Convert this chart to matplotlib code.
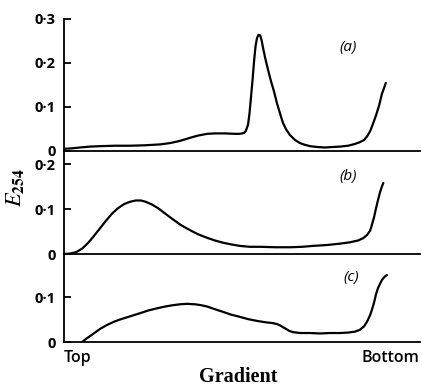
"""
Perfiles de absorbancia E254 a lo largo del gradiente (a), (b), (c)
"""

import matplotlib
matplotlib.use("Agg")
import matplotlib.pyplot as plt

# ── Datos (posición en el gradiente, % desde arriba) ────────────────────────

pos_a = [0.0, 2.2, 4.5, 7.3, 10.1, 14.3, 18.5, 22.8, 27.0, 29.8, 32.6, 35.4,
         37.6, 40.2, 42.4, 45.2, 48.0, 49.4, 50.6, 51.1, 51.7, 52.1, 52.5,
         53.0, 53.4, 53.8, 54.2, 54.6, 55.1, 55.5, 55.9, 56.5, 57.3, 58.1,
         59.0, 59.8, 60.7, 61.5, 62.4, 63.5, 64.9, 66.3, 67.7, 69.1, 71.3,
         73.3, 75.3, 77.5, 79.8, 81.7, 83.1, 84.3, 85.1, 86.0, 86.8, 87.6,
         88.5, 89.3, 89.9, 90.4]
e254_a = [0.005, 0.006, 0.008, 0.010, 0.011, 0.012, 0.012, 0.013, 0.015,
          0.018, 0.023, 0.030, 0.035, 0.039, 0.040, 0.040, 0.039, 0.039,
          0.041, 0.046, 0.060, 0.085, 0.120, 0.165, 0.205, 0.238, 0.256,
          0.264, 0.263, 0.252, 0.235, 0.212, 0.185, 0.160, 0.135, 0.109,
          0.085, 0.064, 0.049, 0.036, 0.025, 0.018, 0.014, 0.011, 0.009,
          0.008, 0.009, 0.010, 0.012, 0.016, 0.020, 0.025, 0.033, 0.045,
          0.062, 0.080, 0.103, 0.130, 0.143, 0.155]

pos_b = [0.0, 1.7, 3.4, 5.1, 6.7, 8.4, 10.1, 11.8, 13.5, 15.2, 16.9, 18.5,
         20.2, 21.6, 23.0, 24.7, 26.4, 28.4, 30.6, 32.9, 35.4, 37.6, 40.2,
         42.4, 44.7, 47.2, 49.4, 52.2, 55.1, 59.3, 63.5, 66.9, 69.9, 73.9,
         77.5, 80.3, 82.6, 84.0, 85.1, 86.0, 86.5, 87.1, 87.6, 88.2, 88.8,
         89.3, 89.7]
e254_b = [0.0, 0.001, 0.004, 0.012, 0.024, 0.040, 0.057, 0.074, 0.090, 0.102,
          0.111, 0.116, 0.119, 0.119, 0.116, 0.110, 0.102, 0.090, 0.077,
          0.064, 0.053, 0.044, 0.036, 0.030, 0.025, 0.021, 0.018, 0.016,
          0.016, 0.015, 0.015, 0.016, 0.018, 0.020, 0.023, 0.026, 0.030,
          0.035, 0.042, 0.052, 0.065, 0.082, 0.100, 0.120, 0.138, 0.150,
          0.158]

pos_c = [5.1, 6.2, 7.3, 8.7, 10.1, 12.1, 14.0, 15.7, 18.5, 21.3, 23.6, 26.1,
         28.4, 30.6, 32.6, 34.6, 36.8, 38.5, 40.2, 42.4, 44.7, 46.9, 49.4,
         51.7, 54.2, 56.5, 58.7, 59.8, 60.7, 61.5, 62.4, 63.2, 64.3, 66.3,
         69.1, 71.9, 74.7, 77.5, 79.8, 81.7, 83.1, 84.3, 85.1, 86.0, 86.5,
         87.1, 87.6, 88.2, 88.8, 89.3, 90.0, 90.7]
e254_c = [0.0, 0.007, 0.013, 0.021, 0.029, 0.038, 0.045, 0.050, 0.057, 0.064,
          0.070, 0.075, 0.079, 0.082, 0.084, 0.085, 0.084, 0.082, 0.079,
          0.073, 0.067, 0.061, 0.056, 0.051, 0.047, 0.044, 0.042, 0.040,
          0.037, 0.033, 0.029, 0.025, 0.022, 0.020, 0.020, 0.019, 0.020,
          0.020, 0.021, 0.023, 0.027, 0.035, 0.045, 0.060, 0.072, 0.088,
          0.105, 0.120, 0.130, 0.138, 0.145, 0.149]

panel_labels = ["(a)", "(b)", "(c)"]
yticks = [[0, 0.1, 0.2, 0.3], [0, 0.1, 0.2], [0, 0.1]]
ytick_labels = [["0", "0·1", "0·2", "0·3"], ["0", "0·1", "0·2"], ["0", "0·1"]]
ylims = [0.30, 0.229, 0.196]

# ── Figura ───────────────────────────────────────────────────────────────────

W, H = 422, 387
fig = plt.figure(figsize=(W / 100, H / 100), dpi=100)

left, right = 64 / W, 420 / W
# (top_px, bottom_px) de cada panel
bounds = [(19, 151), (151, 254), (254, 342)]
series = [(pos_a, e254_a), (pos_b, e254_b), (pos_c, e254_c)]
label_pos = [(348, 47), (348, 177), (351, 278)]

tick_font = dict(family="Open Sans", weight="bold", size=10.5)

for i, ((t, b), (xs, ys)) in enumerate(zip(bounds, series)):
    ax = fig.add_axes([left, (H - b) / H, right - left, (b - t) / H])
    ax.plot(xs, ys, color="black", lw=1.6, solid_joinstyle="round",
            solid_capstyle="round")
    ax.set_xlim(0, 100)
    ax.set_ylim(0, ylims[i])
    ax.spines["top"].set_visible(False)
    ax.spines["right"].set_visible(False)
    ax.spines["left"].set_linewidth(1.3)
    ax.spines["bottom"].set_linewidth(1.3)
    ax.set_xticks([])
    ax.set_yticks(yticks[i])
    ax.set_yticklabels(ytick_labels[i], fontdict=tick_font)
    ax.tick_params(axis="y", direction="in", length=5, width=1.3, pad=6)
    ax.patch.set_alpha(0)
    lx, ly = label_pos[i]
    fig.text(lx / W, 1 - ly / H, panel_labels[i], ha="center", va="center",
             family="Open Sans", style="italic", fontsize=11)

fig.text(64 / W, 1 - 358 / H, "Top", ha="left", va="center",
         family="Open Sans", weight="semibold", fontsize=11.5)
fig.text(419 / W, 1 - 358 / H, "Bottom", ha="right", va="center",
         family="Open Sans", weight="semibold", fontsize=11.5)
fig.text(238 / W, 1 - 377 / H, "Gradient", ha="center", va="center",
         family="Liberation Serif", weight="bold", fontsize=14.5)

plt.rcParams["mathtext.fontset"] = "stix"
fig.text(15 / W, 1 - 188 / H, r"$E_{\mathbf{254}}$", ha="center", va="center",
         rotation=90, fontsize=16)

fig.savefig("out.png", dpi=100)
